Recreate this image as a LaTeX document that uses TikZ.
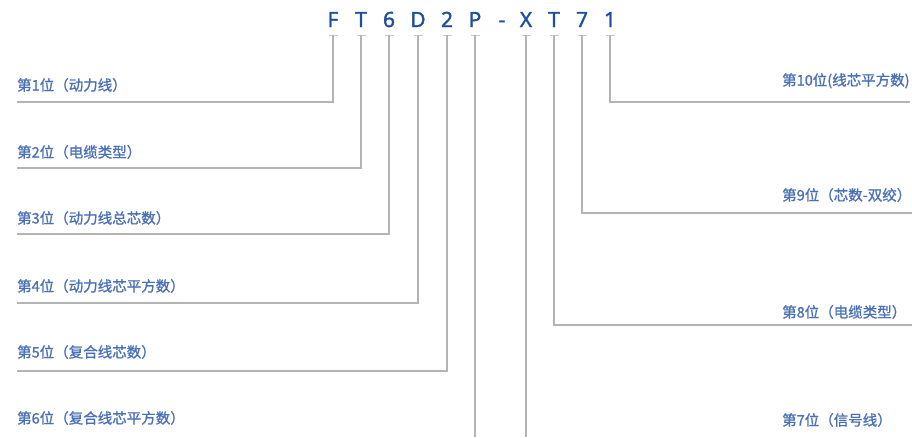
\documentclass[tikz,border=0pt]{standalone}
\usepackage{fontspec}
\setmainfont{Noto Sans}
\newfontfamily\cjk[FakeBold=1.2]{Noto Sans CJK SC}
\newfontfamily\codefont[FakeBold=1.5]{Noto Sans}
\definecolor{codeblue}{HTML}{1F4E9E}
\definecolor{labblue}{HTML}{4A70B5}
\definecolor{wiregray}{HTML}{B4B4B4}
\definecolor{tickgray}{HTML}{C8C8C8}
\begin{document}
\begin{tikzpicture}[x=1pt,y=-1pt,
  code/.style={font=\codefont\fontsize{21}{23}\selectfont, text=codeblue, anchor=base, inner sep=0pt},
  labl/.style={font=\cjk\fontsize{14.5}{16}\selectfont, text=labblue, anchor=base west, inner sep=0pt},
  wire/.style={draw=wiregray, line width=1.2pt},
  ticks/.style={draw=tickgray, line width=1pt}]
\useasboundingbox (0,0) rectangle (912,437);
% code letters
\foreach \n/\x/\t in {F/333/F, T1/361/T, S6/389/6, D/418/D, S2/447/2, P/475/P, M/502/-, X/526/X, T2/554/T, S7/582/7, S1/610/1}{
  \node[code] (\n) at (\x,27) {\t};
}
% ticks under letters (no tick for the dash)
\foreach \n in {F,T1,S6,D,S2,P,X,T2,S7,S1}{
  \coordinate (t\n) at (\n.base |- 0,35);
  \draw[ticks] ([xshift=-4.5pt]t\n) -- ([xshift=4.5pt]t\n);
}
% left labels
\node[labl] (L1) at (17,90.5) {第1位（动力线）};
\node[labl] (L2) at (17,157.5) {第2位（电缆类型）};
\node[labl] (L3) at (17,223.5) {第3位（动力线总芯数）};
\node[labl] (L4) at (17,291.5) {第4位（动力线芯平方数）};
\node[labl] (L5) at (17,357.5) {第5位（复合线芯数）};
\node[labl] (L6) at (17,423.5) {第6位（复合线芯平方数）};
% right labels
\node[labl] (R10) at (782,85.5) {第10位(线芯平方数)};
\node[labl] (R9) at (782,200.5) {第9位（芯数-双绞）};
\node[labl] (R8) at (782,317.5) {第8位（电缆类型）};
\node[labl] (R7) at (782,425.5) {第7位（信号线）};
% line end coordinates
\coordinate (e1) at (17,102);
\coordinate (e2) at (17,168);
\coordinate (e3) at (17,234);
\coordinate (e4) at (17,303);
\coordinate (e5) at (17,371);
\coordinate (e6) at (475,437);
\coordinate (e7) at (526,437);
\coordinate (e8) at (912,325);
\coordinate (e9) at (912,213);
\coordinate (e10) at (910,102);
% connectors
\draw[wire] (tF) |- (e1);
\draw[wire] (tT1) |- (e2);
\draw[wire] (tS6) |- (e3);
\draw[wire] (tD) |- (e4);
\draw[wire] (tS2) |- (e5);
\draw[wire] (tP) -- (e6);
\draw[wire] (tX) -- (e7);
\draw[wire] (tT2) |- (e8);
\draw[wire] (tS7) |- (e9);
\draw[wire] (tS1) |- (e10);
\end{tikzpicture}
\end{document}
